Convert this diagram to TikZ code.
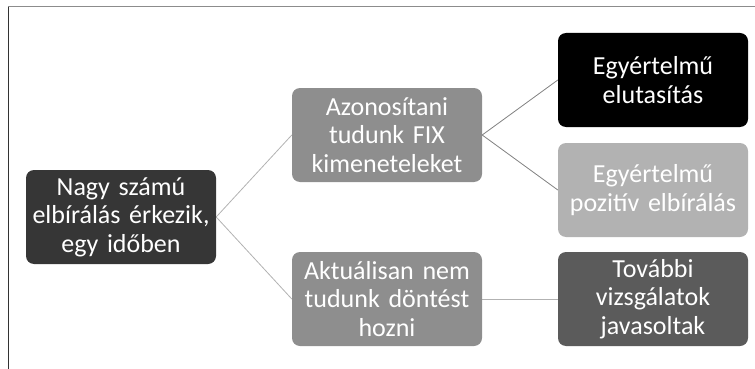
\documentclass[tikz,border=0pt]{standalone}
\usepackage{fontspec}
\setmainfont[WordSpace=0.8]{Carlito}
\usepackage{tikz}
\usetikzlibrary{positioning}
\usetikzlibrary{calc}
\pgfdeclarelayer{nodelayer}
\pgfdeclarelayer{edgelayer}
\pgfsetlayers{edgelayer,nodelayer,main}
\definecolor{rootgray}{HTML}{363636}
\definecolor{midgray}{HTML}{8E8E8E}
\definecolor{lightgray}{HTML}{B2B2B2}
\definecolor{darkgray}{HTML}{5B5B5B}
\tikzset{box/.style={inner sep=0pt, rounded corners=8pt, text=white, align=center,
text width=188pt, minimum width=190pt, minimum height=94pt, anchor=center,
font=\fontsize{26}{28.5}\selectfont}}
\tikzstyle{none}=[inner sep=0pt]
\tikzstyle{link}=[line width=.8pt, color=black!30]
\tikzstyle{darklink}=[line width=.8pt, color=black!50]

\begin{document}
\begin{tikzpicture}[x=1pt, y=-1pt]
        \useasboundingbox (0,0) rectangle (755,369);
        \draw [color=black!45, line width=1pt] (8,7) -- (755,7);
        \draw [color=black!80, line width=1pt] (8,7) -- (8,369);
        \begin{pgfonlayer}{nodelayer}
            \node [style=box, fill=rootgray] (0) at (121, 217) {Nagy számú\\elbírálás érkezik,\\egy időben};
            \node [style=box, fill=midgray] (1) at (387, 135) {Azonosítani\\tudunk FIX\\kimeneteleket};
            \node [style=box, fill=midgray] (2) at (387, 299) {Aktuálisan nem\\tudunk döntést\\hozni};
            \node [style=box, fill=black] (3) at (653, 80) {Egyértelmű\\elutasítás};
            \node [style=box, fill=lightgray] (4) at (653, 190) {Egyértelmű\\pozitív elbírálás};
            \node [style=box, fill=darkgray] (5) at (653, 299) {További\\vizsgálatok\\javasoltak};
        \end{pgfonlayer}
        \begin{pgfonlayer}{edgelayer}
            \draw [style=link] (0.east) to (1.west);
            \draw [style=link] (0.east) to (2.west);
            \draw [style=darklink] (1.east) to (3.west);
            \draw [style=darklink] (1.east) to (4.west);
            \draw [style=link] (2.east) to (5.west);
        \end{pgfonlayer}
    \end{tikzpicture}
\end{document}
